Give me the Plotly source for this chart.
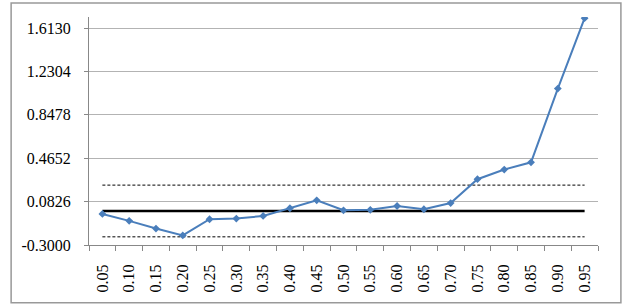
import plotly.graph_objects as go

categories = ["0.05", "0.10", "0.15", "0.20", "0.25", "0.30", "0.35", "0.40", "0.45", "0.50",
              "0.55", "0.60", "0.65", "0.70", "0.75", "0.80", "0.85", "0.90", "0.95"]
values = [-0.026, -0.087, -0.155, -0.216, -0.073, -0.067, -0.044, 0.024, 0.094, 0.006,
          0.010, 0.044, 0.015, 0.070, 0.280, 0.365, 0.429, 1.079, 1.700]
mean_line = [0.0] * len(categories)
upper_limit = [0.228] * len(categories)
lower_limit = [-0.228] * len(categories)
tick_vals = [-0.3000, 0.0826, 0.4652, 0.8478, 1.2304, 1.6130]
tick_text = ["-0.3000", "0.0826", "0.4652", "0.8478", "1.2304", "1.6130"]

fig = go.Figure()
fig.add_trace(go.Scatter(x=categories, y=upper_limit, mode="lines",
                         line=dict(color="black", width=1, dash="3px,2px"), hoverinfo="skip"))
fig.add_trace(go.Scatter(x=categories, y=lower_limit, mode="lines",
                         line=dict(color="black", width=1, dash="3px,2px"), hoverinfo="skip"))
fig.add_trace(go.Scatter(x=categories, y=mean_line, mode="lines",
                         line=dict(color="black", width=2.5), hoverinfo="skip"))
fig.add_trace(go.Scatter(x=categories, y=values, mode="lines+markers",
                         line=dict(color="#4a7ebb", width=2),
                         marker=dict(symbol="diamond", size=6, color="#4a7ebb")))

font = dict(family="Liberation Serif", size=16, color="black")
fig.update_layout(
    width=629, height=308,
    margin=dict(l=89, r=31, t=17, b=63, autoexpand=False),
    paper_bgcolor="white", plot_bgcolor="white",
    showlegend=False,
    font=font,
    xaxis=dict(type="category", range=[-0.5, 18.5], tickangle=-90, automargin=False,
               showgrid=False, showline=True, linecolor="#888888", linewidth=1,
               ticks="outside", ticklen=5, tickcolor="#888888", tickson="boundaries",
               tickfont=dict(family="Liberation Serif", size=16, color="black"),
               ticklabelstandoff=12),
    yaxis=dict(range=[-0.3, 1.71], tickvals=tick_vals, ticktext=tick_text, automargin=False,
               showgrid=True, gridcolor="#b3b3b3", gridwidth=1,
               showline=True, linecolor="#888888", linewidth=1,
               ticks="outside", ticklen=4, tickcolor="#888888",
               zeroline=False, tickfont=font, ticklabelstandoff=10),
    shapes=[dict(type="rect", xref="paper", yref="paper",
                 x0=-0.153, x1=1.045, y0=-0.253, y1=1.061,
                 line=dict(color="#999999", width=1.5), fillcolor="rgba(0,0,0,0)", layer="above")],
)

fig.write_html("out.html", config={"displayModeBar": False},
               post_script="document.body.style.margin='0';")
